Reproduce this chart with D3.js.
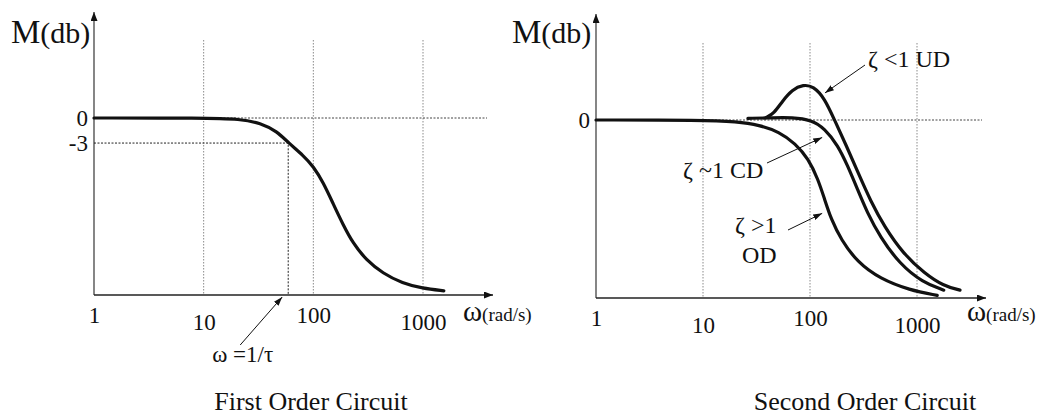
<!DOCTYPE html>
<html>
<head>
<meta charset="utf-8">
<script src="https://cdn.jsdelivr.net/npm/d3@7"></script>
<style>
  html, body { margin: 0; padding: 0; background: #fff; }
  svg { display: block; font-family: "Liberation Serif", "Times New Roman", serif; }
</style>
</head>
<body>
<svg id="chart" width="1052" height="415"></svg>
<script>
// ---------------- data ----------------
const xTicks = [1, 10, 100, 1000];
const xTickLabels = ["1", "10", "100", "1000"];
const yTicksFirst = [0, -3];
const yTickLabelsFirst = ["0", "-3"];
const yTicksSecond = [0];
const yTickLabelsSecond = ["0"];

// First order circuit
const firstOmega = [1, 10, 21.7, 33, 46.7, 59.5, 81.3, 100, 123, 152, 187, 230, 303, 429, 650, 986, 1549];
const firstDb    = [0, 0, -0.12, -0.6, -1.6, -3.0, -4.5, -5.8, -7.7, -10.3, -12.8, -15.0, -17.0, -18.6, -19.8, -20.4, -20.7];
const cornerOmega = 59;   // ω = 1/τ
const cornerDb = -3;

// Second order circuit
const odOmega = [1, 10, 20.6, 33.7, 51.3, 73, 96.6, 119, 137, 158, 195, 277, 452, 851, 1545];
const odDb    = [0, 0, -0.19, -0.58, -1.35, -2.7, -4.45, -6.8, -9.1, -11.4, -13.7, -16.3, -18.2, -19.5, -20.1];
const cdOmega = [26.3, 45, 68, 103.5, 137, 182, 224, 277, 342, 452, 689, 1127, 1778];
const cdDb    = [0.19, 0.25, 0.3, 0, -0.97, -2.9, -5.2, -7.9, -10.6, -13.4, -16.5, -18.6, -19.5];
const udOmega = [38.7, 46.2, 55, 68, 86.9, 107.3, 137, 172, 218, 278, 372, 495, 740, 1180, 1760, 2523];
const udDb    = [0.27, 0.77, 2.13, 3.48, 4.06, 3.87, 2.5, -0.19, -2.9, -5.9, -9.4, -12.2, -15.3, -17.6, -19.0, -19.5];

const yLabel = ["M", "(db)"];
const xLabel = ["ω", "(rad/s)"];
const captions = ["First Order Circuit", "Second Order Circuit"];
const cornerLabel = "ω =1/τ";
const udLabel = "ζ <1 UD";
const cdLabel = "ζ ~1 CD";
const odLabel = ["ζ >1", "OD"];

// ---------------- drawing ----------------
const svg = d3.select("#chart");
const defs = svg.append("defs");
function marker(id, w, h) {
  defs.append("marker").attr("id", id)
    .attr("viewBox", `0 0 ${w} ${h}`).attr("refX", w).attr("refY", h / 2)
    .attr("markerWidth", w).attr("markerHeight", h).attr("markerUnits", "userSpaceOnUse")
    .attr("orient", "auto")
    .append("path").attr("d", `M0,0L${w},${h/2}L0,${h}Z`).attr("fill", "#111");
}
marker("axisArrow", 9, 7);
marker("noteArrow", 9, 6);

const zip = (a, b) => a.map((v, i) => [v, b[i]]);

function panel(cfg) {
  const x = d3.scaleLog().domain([1, 1000]).range(cfg.xr);
  const y = d3.scaleLinear().domain([cfg.dbMin, 0]).range(cfg.yr);
  const g = svg.append("g");
  const y0 = cfg.yr[0];

  // grid lines
  g.selectAll(".grid").data(xTicks.slice(1)).join("line")
    .attr("x1", d => x(d)).attr("x2", d => x(d))
    .attr("y1", cfg.gridTop).attr("y2", y0)
    .attr("stroke", "#8a8a8a").attr("stroke-width", 1).attr("stroke-dasharray", "1.5,1.5");

  // 0 dB reference
  g.append("line").attr("x1", x(1)).attr("x2", cfg.zeroEnd)
    .attr("y1", y(0)).attr("y2", y(0))
    .attr("stroke", "#444").attr("stroke-width", 1).attr("stroke-dasharray", "2,1.5");

  // axes
  g.append("line").attr("x1", x(1)).attr("x2", x(1)).attr("y1", y0).attr("y2", cfg.yAxisTop)
    .attr("stroke", "#444").attr("stroke-width", 1.3).attr("marker-end", "url(#axisArrow)");
  g.append("line").attr("x1", x(1)).attr("y1", y0).attr("x2", cfg.xAxisEnd).attr("y2", y0)
    .attr("stroke", "#222").attr("stroke-width", 1.4).attr("marker-end", "url(#axisArrow)");

  // x tick labels via axis
  const ax = g.append("g").attr("transform", `translate(0,${y0})`)
    .call(d3.axisBottom(x).tickValues(xTicks).tickFormat((d, i) => xTickLabels[i]).tickSize(0).tickPadding(0));
  ax.select(".domain").remove();
  ax.selectAll("text").attr("font-family", "Liberation Serif").attr("font-size", 23)
    .attr("fill", "#111").attr("dy", null)
    .attr("y", (d, i) => i % 2 ? 35 : 28);

  // y tick labels via axis
  const ay = g.append("g").attr("transform", `translate(${x(1)},0)`)
    .call(d3.axisLeft(y).tickValues(cfg.yTicks).tickFormat((d, i) => cfg.yTickLabels[i]).tickSize(0).tickPadding(6));
  ay.select(".domain").remove();
  ay.selectAll("text").attr("font-family", "Liberation Serif").attr("font-size", 23).attr("fill", "#111");

  // axis titles
  const yt = g.append("text").attr("x", cfg.yTitleX).attr("y", 43).attr("fill", "#111");
  yt.append("tspan").attr("font-size", 33).text(yLabel[0]);
  yt.append("tspan").attr("font-size", 30).text(yLabel[1]);
  const xt = g.append("text").attr("x", cfg.xTitleX).attr("y", 321).attr("fill", "#111");
  xt.append("tspan").attr("font-size", 29).text(xLabel[0]);
  xt.append("tspan").attr("font-size", 19).text(xLabel[1]);

  // caption
  g.append("text").attr("x", cfg.captionX).attr("y", 410).attr("text-anchor", "middle")
    .attr("font-size", 26).attr("fill", "#111").text(cfg.caption);

  const line = d3.line().x(d => x(d[0])).y(d => y(d[1])).curve(d3.curveBasis);
  return { g, x, y, line };
}

// ---- Left panel ----
const L = panel({
  xr: [94, 423], yr: [295, 118], dbMin: -21.2, gridTop: 40, zeroEnd: 487, yAxisTop: 12, xAxisEnd: 493,
  yTicks: yTicksFirst, yTickLabels: yTickLabelsFirst, yTitleX: 11, xTitleX: 463,
  captionX: 311, caption: captions[0]
});
// -3 dB guides
L.g.append("path")
  .attr("d", `M${L.x(1)},${L.y(cornerDb)}H${L.x(cornerOmega)}V${L.y(-21.2)}`)
  .attr("fill", "none").attr("stroke", "#222").attr("stroke-width", 1).attr("stroke-dasharray", "2,1.5");
L.g.append("path").datum(zip(firstOmega, firstDb)).attr("d", L.line)
  .attr("fill", "none").attr("stroke", "#111").attr("stroke-width", 3.2).attr("stroke-linecap", "round");
// corner annotation
L.g.append("line").attr("x1", L.x(cornerOmega) - 48).attr("y1", L.y(-21.2) + 50)
  .attr("x2", L.x(cornerOmega) - 6).attr("y2", L.y(-21.2) + 2)
  .attr("stroke", "#111").attr("stroke-width", 1).attr("marker-end", "url(#noteArrow)");
L.g.append("text").attr("x", L.x(cornerOmega) - 76).attr("y", 362)
  .attr("font-size", 23).attr("fill", "#111").text(cornerLabel);

// ---- Right panel ----
const R = panel({
  xr: [596, 917], yr: [298, 120], dbMin: -20.4, gridTop: 43, zeroEnd: 982, yAxisTop: 14, xAxisEnd: 986,
  yTicks: yTicksSecond, yTickLabels: yTickLabelsSecond, yTitleX: 512, xTitleX: 967,
  captionX: 865, caption: captions[1]
});
[[odOmega, odDb], [cdOmega, cdDb], [udOmega, udDb]].forEach(([o, m]) => {
  R.g.append("path").datum(zip(o, m)).attr("d", R.line)
    .attr("fill", "none").attr("stroke", "#111").attr("stroke-width", 3.2).attr("stroke-linecap", "round");
});
function note(x1, y1, tipOmega, tipDb) {
  R.g.append("line").attr("x1", x1).attr("y1", y1)
    .attr("x2", R.x(tipOmega)).attr("y2", R.y(tipDb))
    .attr("stroke", "#111").attr("stroke-width", 1).attr("marker-end", "url(#noteArrow)");
}
note(865, 65, 138, 3.1);
note(767, 163, 130, -2.0);
note(788, 230, 130, -10.7);
R.g.append("text").attr("x", 868).attr("y", 67).attr("font-size", 24).attr("fill", "#111").text(udLabel);
R.g.append("text").attr("x", 683).attr("y", 178).attr("font-size", 24).attr("fill", "#111").text(cdLabel);
R.g.append("text").attr("x", 735).attr("y", 233).attr("font-size", 24).attr("fill", "#111").text(odLabel[0]);
R.g.append("text").attr("x", 742).attr("y", 263).attr("font-size", 24).attr("fill", "#111").text(odLabel[1]);
</script>
</body>
</html>
